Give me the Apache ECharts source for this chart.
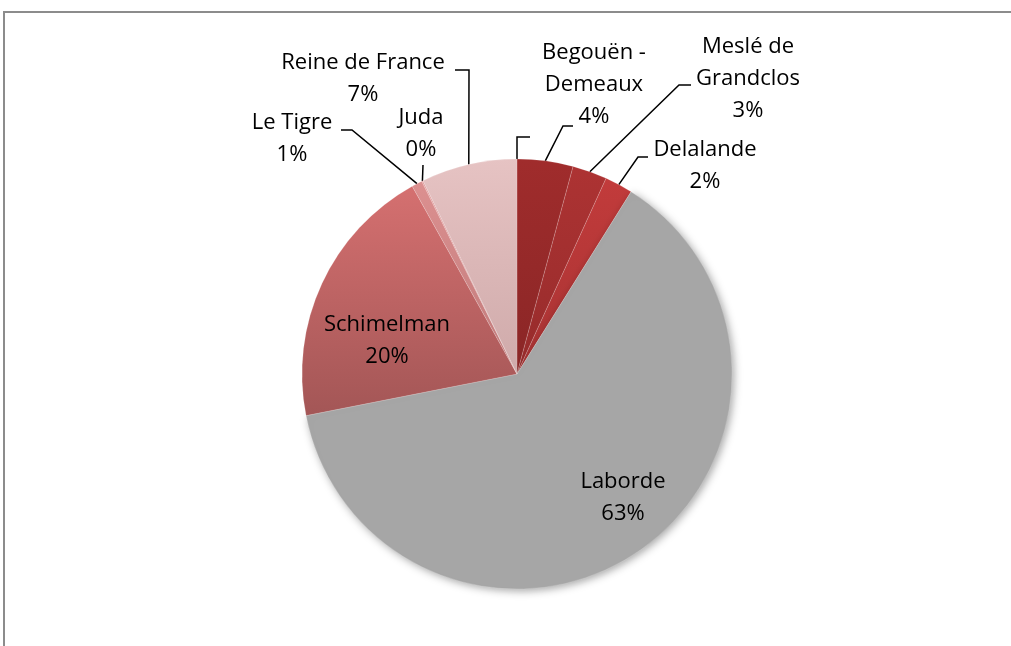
<!DOCTYPE html>
<html>
<head>
<meta charset="utf-8">
<script src="https://cdn.jsdelivr.net/npm/echarts@6/dist/echarts.min.js"></script>
<style>
html,body{margin:0;padding:0;background:#fff;}
#chart{width:1011px;height:646px;}
</style>
</head>
<body>
<div id="chart"></div>
<script>
// ---- data ----
const categories = ['', 'Begouën -\nDemeaux', 'Meslé de\nGrandclos', 'Delalande', 'Laborde', 'Schimelman', 'Le Tigre', 'Juda', 'Reine de France'];
const values = [0, 4.2, 2.6, 2.1, 63.0, 20.0, 0.8, 0.1, 7.2];

// ---- styles ----
const sliceColors = [
  ['#a02b2b', '#8c2525'],
  ['#a02c2c', '#8a2626'],
  ['#ad3333', '#962b2b'],
  ['#c23b3b', '#a83333'],
  ['#a6a6a6', '#a6a6a6'],
  ['#d57070', '#a35656'],
  ['#dc9090', '#c07a7a'],
  ['#e29c9c', '#cc8888'],
  ['#e6c3c3', '#cfaaaa']
];
const insideIdx = [4, 5];
// label placement (label block centre, leader elbow & end) – styling only
const labelPlace = {
  0: { cx: 560, cy: 137, line: [[517, 137], [530, 137]], hide: true },
  1: { cx: 594, cy: 85, line: [[563, 126], [573, 126]] },
  2: { cx: 748, cy: 79, line: [[679, 85], [691, 85]] },
  3: { cx: 705, cy: 166, line: [[638, 157], [648, 157]] },
  4: { cx: 623, cy: 498 },
  5: { cx: 387, cy: 341 },
  6: { cx: 292, cy: 139, line: [[352, 130], [341, 130]] },
  7: { cx: 421, cy: 134, line: [[423, 165], [423, 165]] },
  8: { cx: 363, cy: 79, line: [[469, 70], [455, 70]] }
};

const chart = echarts.init(document.getElementById('chart'), null, { renderer: 'canvas' });

const seriesData = categories.map((name, i) => {
  const inside = insideIdx.indexOf(i) >= 0;
  const item = {
    name: name,
    value: values[i],
    itemStyle: {
      color: {
        type: 'linear', x: 0, y: 0, x2: 0, y2: 1,
        colorStops: [{ offset: 0, color: sliceColors[i][0] }, { offset: 1, color: sliceColors[i][1] }]
      }
    },
    label: { position: inside ? 'inside' : 'outside' },
    labelLine: { show: !inside }
  };
  if (i === 4) {
    item.itemStyle.shadowBlur = 8;
    item.itemStyle.shadowColor = 'rgba(0,0,0,0.35)';
    item.itemStyle.shadowOffsetX = 2;
    item.itemStyle.shadowOffsetY = 2;
  }
  return item;
});

chart.setOption({
  animation: false,
  backgroundColor: '#ffffff',
  graphic: [{
    type: 'rect',
    shape: { x: 4, y: 12, width: 1200, height: 800 },
    style: { fill: 'none', stroke: '#8c8c8c', lineWidth: 2 },
    silent: true
  }],
  series: [{
    type: 'pie',
    center: [517, 374],
    radius: 215,
    startAngle: 90,
    clockwise: true,
    avoidLabelOverlap: false,
    percentPrecision: 0,
    itemStyle: { borderColor: 'rgba(255,255,255,0.25)', borderWidth: 0.6 },
    label: {
      show: true,
      formatter: function (p) { return p.name === '' ? ' ' : p.name + '\n' + p.percent + '%'; },
      fontFamily: 'Open Sans',
      fontSize: 22,
      lineHeight: 32,
      color: '#000000',
      align: 'center'
    },
    labelLine: { show: true, length: 20, length2: 10, smooth: false, lineStyle: { color: '#000000', width: 1.5 } },
    emphasis: { disabled: true },
    labelLayout: function (params) {
      const p = labelPlace[params.dataIndex];
      if (!p) return {};
      const res = { x: p.cx, y: p.cy, align: 'center', verticalAlign: 'middle' };
      if (p.line && params.labelLinePoints && params.labelLinePoints[0]) {
        const e = params.labelLinePoints[0];
        res.labelLinePoints = [e, p.line[0], p.line[1]];
      }
      return res;
    },
    data: seriesData
  }]
});
</script>
</body>
</html>
